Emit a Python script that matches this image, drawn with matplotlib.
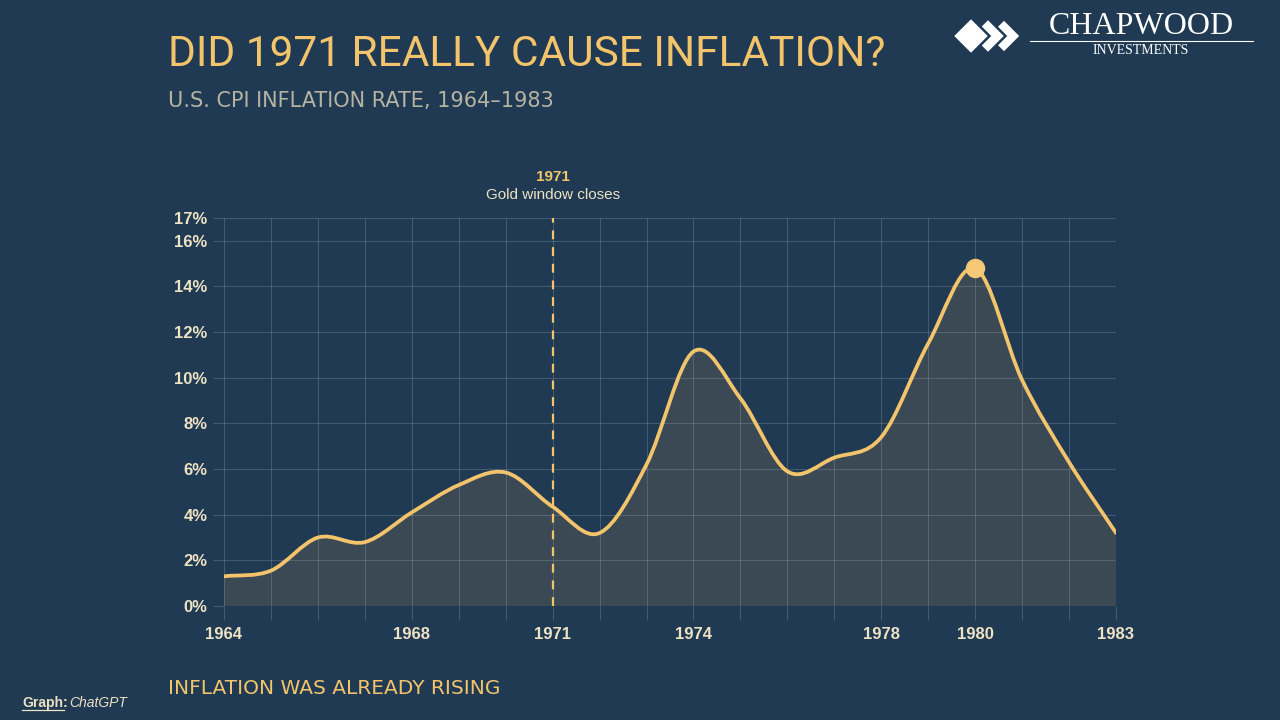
import matplotlib
matplotlib.use("Agg")
import matplotlib.pyplot as plt
import numpy as np
from matplotlib.path import Path
from matplotlib.patches import PathPatch, Polygon
from matplotlib import font_manager
from matplotlib.lines import Line2D

# data
years = list(range(1964, 1984))
cpi = [1.3, 1.55, 3.0, 2.8, 4.1, 5.3, 5.85, 4.35, 3.2, 6.2,
       11.15, 9.1, 5.9, 6.5, 7.4, 11.5, 14.8, 9.9, 6.3, 3.2]
y_ticks = [0, 2, 4, 6, 8, 10, 12, 14, 16, 17]
x_labels = [1964, 1968, 1971, 1974, 1978, 1980, 1983]
event_year = 1971
peak_year = 1980

BG = "#1f3a52"
GOLD = "#f3c46b"
CREAM = "#eee2c4"
GRID = "#8b9cab"
FILL = "#3a4954"

names = {f.name for f in font_manager.fontManager.ttflist}
narrow = "Liberation Sans Narrow" if "Liberation Sans Narrow" in names else "Roboto"
SANS = "Liberation Sans"


def smooth_verts(x, y):
    # catmull-rom style bezier through the points
    x = np.asarray(x, float)
    y = np.asarray(y, float)
    mx = np.gradient(x)
    my = np.gradient(y)
    verts = [(x[0], y[0])]
    codes = [Path.MOVETO]
    for i in range(len(x) - 1):
        verts.append((x[i] + mx[i] / 3, y[i] + my[i] / 3))
        verts.append((x[i + 1] - mx[i + 1] / 3, y[i + 1] - my[i + 1] / 3))
        verts.append((x[i + 1], y[i + 1]))
        codes += [Path.CURVE4] * 3
    return verts, codes


fig = plt.figure(figsize=(12.8, 7.2), dpi=100, facecolor=BG)
ax = fig.add_axes([224 / 1280, 114 / 720, 892 / 1280, 388 / 720])
ax.set_facecolor("none")
ax.set_xlim(years[0], years[-1])
ax.set_ylim(0, 17)

verts, codes = smooth_verts(years, cpi)
fill_verts = verts + [(years[-1], 0), (years[0], 0), (years[0], 0)]
fill_codes = codes + [Path.LINETO, Path.LINETO, Path.CLOSEPOLY]
ax.add_patch(PathPatch(Path(fill_verts, fill_codes), facecolor=FILL,
                       edgecolor="none", zorder=1))
ax.add_patch(PathPatch(Path(verts, codes), facecolor="none", edgecolor=GOLD,
                       lw=2.7, capstyle="round", joinstyle="round", zorder=4))

ax.plot([peak_year], [cpi[years.index(peak_year)]], "o", color="#f6c774",
        ms=13, zorder=5)

ax.axvline(event_year, color=GOLD, lw=1.6, ls=(0, (4, 3.5)), zorder=3)

ax.set_xticks(years)
ax.set_xticklabels([str(y) if y in x_labels else "" for y in years])
ax.set_yticks(y_ticks)
ax.set_yticklabels([f"{v}%" for v in y_ticks])
ax.grid(True, color=GRID, alpha=0.33, lw=0.8, zorder=2)
ax.set_axisbelow(False)
for s in ax.spines.values():
    s.set_visible(False)
tick_col = (0.55, 0.61, 0.67, 0.33)
ax.tick_params(axis="x", length=10, width=0.8, color=tick_col,
               pad=5, labelsize=12, labelcolor=CREAM)
ax.tick_params(axis="y", length=8, width=0.8, color=tick_col,
               pad=4, labelsize=12, labelcolor=CREAM)
for lab in ax.get_xticklabels() + ax.get_yticklabels():
    lab.set_fontfamily(SANS)
    lab.set_fontweight("bold")

# event annotation
ax.text(event_year, 1.105, "1971", transform=ax.get_xaxis_transform(),
        ha="center", va="center", color=GOLD, fontsize=11, fontweight="bold",
        family=SANS)
ax.text(event_year, 1.06, "Gold window closes", transform=ax.get_xaxis_transform(),
        ha="center", va="center", color=CREAM, fontsize=11, family=SANS)

# titles
fig.text(168 / 1280, 1 - 55 / 720, "DID 1971 REALLY CAUSE INFLATION?",
         color=GOLD, fontsize=30.5, family=narrow, ha="left", va="center")
fig.text(168 / 1280, 1 - 101 / 720, "U.S. CPI INFLATION RATE, 1964\u20131983",
         color="#b6b3a3", fontsize=15, family="DejaVu Sans", ha="left", va="center")
fig.text(168 / 1280, 1 - 689 / 720, "INFLATION WAS ALREADY RISING",
         color=GOLD, fontsize=14.5, family="DejaVu Sans", ha="left", va="center")
fig.text(22 / 1280, 1 - 703 / 720, "Graph:", color=CREAM, fontsize=10,
         fontweight="bold", family=SANS, ha="left", va="center")
fig.add_artist(Line2D([22 / 1280, 64 / 1280], [1 - 710 / 720] * 2,
                      color=CREAM, lw=0.9))
fig.text(69 / 1280, 1 - 703 / 720, "ChatGPT", color=CREAM, fontsize=10,
         style="italic", family=SANS, ha="left", va="center")

# logo
W, H = 1280, 720
for cx, hw, z in [(971, 18.5, 12), (988, 17.5, 11), (1004, 17, 10)]:
    cy = 36
    pts = [((cx - hw) / W, 1 - cy / H), (cx / W, 1 - (cy - hw) / H),
           ((cx + hw) / W, 1 - cy / H), (cx / W, 1 - (cy + hw) / H)]
    fig.add_artist(Polygon(pts, closed=True, facecolor="white",
                           edgecolor=BG, lw=1.8, zorder=z))
fig.text(1141 / W, 1 - 27 / H, "CHAPWOOD", color="white", fontsize=23,
         family="Liberation Serif", ha="center", va="center")
fig.add_artist(Line2D([1030 / W, 1253 / W], [1 - 41 / H] * 2, color="white", lw=0.8))
fig.text(1141 / W, 1 - 50 / H, "INVESTMENTS", color="white", fontsize=10,
         family="Liberation Serif", ha="center", va="center")

fig.savefig("out.png", dpi=100, facecolor=BG)
